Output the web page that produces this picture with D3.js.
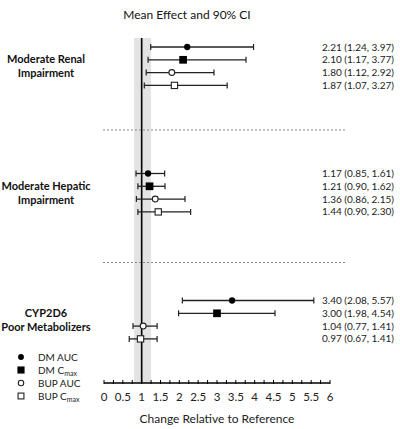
<!DOCTYPE html>
<html><head><meta charset="utf-8">
<script src="https://cdn.jsdelivr.net/npm/d3@7"></script>
<style>body{margin:0;background:#fff}svg{display:block;font-family:Lato,"Open Sans",sans-serif}</style>
</head><body><svg id="c" width="400" height="429"></svg>
<script>
const groups = ["Moderate Renal|Impairment","Moderate Hepatic|Impairment","CYP2D6|Poor Metabolizers"];
const series = ["DM AUC","DM Cmax","BUP AUC","BUP Cmax"];
const markers = ["circleFilled","squareFilled","circleOpen","squareOpen"];
const means = [[2.21,2.10,1.80,1.87],[1.17,1.21,1.36,1.44],[3.40,3.00,1.04,0.97]];
const lows  = [[1.24,1.17,1.12,1.07],[0.85,0.90,0.86,0.90],[2.08,1.98,0.77,0.67]];
const highs = [[3.97,3.77,2.92,3.27],[1.61,1.62,2.15,2.30],[5.57,4.54,1.41,1.41]];
const xTicks = [0,0.5,1,1.5,2,2.5,3,3.5,4,4.5,5,5.5,6];
const minorTicks = d3.range(0,6.01,0.25);
const bandRange = [0.8,1.25];
const refValue = 1;
const title = "Mean Effect and 90% CI";
const xTitle = "Change Relative to Reference";

const svg = d3.select("#c");
const x = d3.scaleLinear().domain([0,6]).range([104,330]);
const groupTop = [47,173.5,300.5];
const rowStep = 12.8;
const axisY = 383;

svg.append("rect").attr("x",x(bandRange[0])).attr("y",38).attr("width",x(bandRange[1])-x(bandRange[0])).attr("height",axisY-38).attr("fill","#e3e3e3");
svg.append("line").attr("x1",x(refValue)).attr("x2",x(refValue)).attr("y1",38).attr("y2",axisY).attr("stroke","#000").attr("stroke-width",1.6);

[130,262.5].forEach(y=>svg.append("line").attr("x1",103).attr("x2",347).attr("y1",y).attr("y2",y).attr("stroke","#888").attr("stroke-width",1).attr("stroke-dasharray","2,2"));

svg.append("text").attr("x",187).attr("y",19).attr("text-anchor","middle").attr("font-size",12).attr("fill","#111").text(title);

function marker(g,type,cx,cy,size){
  if(type==="circleFilled") g.append("circle").attr("cx",cx).attr("cy",cy).attr("r",size*0.45).attr("fill","#000");
  else if(type==="circleOpen") g.append("circle").attr("cx",cx).attr("cy",cy).attr("r",size*0.42).attr("fill","#fff").attr("stroke","#222").attr("stroke-width",1.1);
  else if(type==="squareFilled") g.append("rect").attr("x",cx-size*0.55).attr("y",cy-size*0.55).attr("width",size*1.1).attr("height",size*1.1).attr("fill","#000");
  else g.append("rect").attr("x",cx-size*0.45).attr("y",cy-size*0.45).attr("width",size*0.9).attr("height",size*0.9).attr("fill","#fff").attr("stroke","#222").attr("stroke-width",1.1);
}

groups.forEach((gname,gi)=>{
  series.forEach((s,si)=>{
    const y = groupTop[gi]+si*rowStep;
    const g = svg.append("g");
    g.append("line").attr("x1",x(lows[gi][si])).attr("x2",x(highs[gi][si])).attr("y1",y).attr("y2",y).attr("stroke","#222").attr("stroke-width",1.3);
    [lows[gi][si],highs[gi][si]].forEach(v=>g.append("line").attr("x1",x(v)).attr("x2",x(v)).attr("y1",y-3).attr("y2",y+3).attr("stroke","#222").attr("stroke-width",1.2));
    marker(g,markers[si],x(means[gi][si]),y,7);
    svg.append("text").attr("x",394).attr("y",y+3.5).attr("text-anchor","end").attr("font-size",10).attr("fill","#222")
      .text(`${means[gi][si].toFixed(2)} (${lows[gi][si].toFixed(2)}, ${highs[gi][si].toFixed(2)})`);
  });
  const lines = gname.split("|");
  const cy = groupTop[gi]+1.5*rowStep;
  lines.forEach((l,li)=>{
    svg.append("text").attr("x",46).attr("y",cy-7+li*14+4).attr("text-anchor","middle").attr("font-size",11).attr("font-weight","bold").attr("fill","#111").text(l);
  });
});

const axis = svg.append("g");
axis.append("line").attr("x1",x(0)).attr("x2",x(6)).attr("y1",axisY).attr("y2",axisY).attr("stroke","#000").attr("stroke-width",1.3);
minorTicks.forEach(t=>axis.append("line").attr("x1",x(t)).attr("x2",x(t)).attr("y1",axisY-3).attr("y2",axisY+1).attr("stroke","#000").attr("stroke-width",1));
xTicks.forEach(t=>axis.append("text").attr("x",x(t)).attr("y",axisY+18).attr("text-anchor","middle").attr("font-size",11.5).attr("fill","#222").text(t));
svg.append("text").attr("x",217).attr("y",423).attr("text-anchor","middle").attr("font-size",12).attr("fill","#222").text(xTitle);

const legY = [357,370,383,396];
series.forEach((s,i)=>{
  marker(svg,markers[i],21,legY[i],6.5);
  const t = svg.append("text").attr("x",38).attr("y",legY[i]+3.5).attr("font-size",10).attr("fill","#222");
  if(s.endsWith("Cmax")){
    t.append("tspan").text(s.replace("Cmax","C"));
    t.append("tspan").attr("font-size",7).attr("dy",2.5).text("max");
  } else t.text(s);
});
</script></body></html>
